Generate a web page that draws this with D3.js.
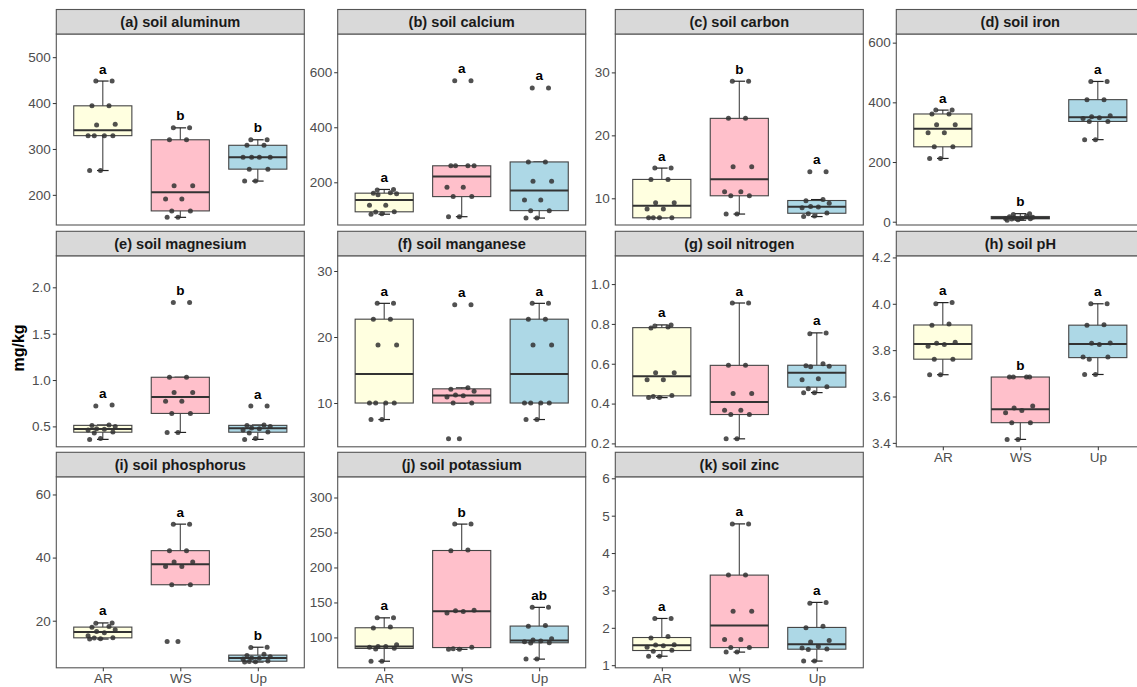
<!DOCTYPE html>
<html>
<head>
<meta charset="UTF-8" />
<style>
  body { margin: 0; background: #fff; }
  svg { display: block; font-family: "Liberation Sans", Arial, sans-serif; }
</style>
</head>
<body>
<svg></svg>
<script src="https://d3js.org/d3.v7.min.js"></script>
<script>
  // groups and their box colours
  const groups = ["AR", "WS", "Up"];
  const boxFills = ["#FFFFE0", "#FFC0CB", "#ADD8E6"];

  // values per group (AR, WS, Up)
  const aluminum = [
    [253, 253, 329, 329, 329, 329, 352, 354, 394, 394, 448, 448],
    [151, 151, 165, 165, 191, 191, 220, 220, 320, 320, 346, 346],
    [230, 230, 256, 256, 282, 282, 282, 282, 308, 308, 320, 320]
  ];
  const calcium = [
    [84, 86, 92, 93, 117, 117, 155, 158, 160, 162, 172, 174],
    [75, 75, 148, 148, 182, 182, 260, 260, 260, 260, 569, 569],
    [70, 70, 97, 97, 136, 136, 204, 204, 274, 274, 543, 543]
  ];
  const carbon = [
    [6.9, 6.9, 6.9, 6.9, 8.3, 8.3, 9.3, 9.3, 13.0, 13.0, 14.8, 14.8],
    [7.5, 7.5, 10.4, 10.4, 11.05, 11.05, 15.0, 15.0, 22.7, 22.7, 28.6, 28.6],
    [7.1, 7.2, 7.55, 7.65, 8.5, 8.6, 8.7, 9.2, 9.6, 9.8, 14.2, 14.2]
  ];
  const iron = [
    [212, 212, 251, 251, 298, 298, 325, 325, 361, 361, 374, 374],
    [5, 7, 9, 10, 11, 12, 13, 15, 17, 19, 24, 27],
    [275, 275, 336, 336, 346, 348, 352, 355, 409, 409, 470, 470]
  ];
  const magnesium = [
    [0.36, 0.37, 0.43, 0.44, 0.46, 0.47, 0.475, 0.5, 0.51, 0.515, 0.72, 0.73],
    [0.435, 0.435, 0.64, 0.64, 0.77, 0.77, 0.865, 0.865, 1.03, 1.03, 1.835, 1.835],
    [0.36, 0.37, 0.43, 0.44, 0.46, 0.475, 0.483, 0.5, 0.51, 0.515, 0.72, 0.72]
  ];
  const manganese = [
    [7.5, 7.5, 10, 10, 10, 10, 18.8, 18.8, 22.7, 22.7, 25.1, 25.1],
    [4.6, 4.6, 10.0, 10.0, 10.9, 11.1, 11.2, 11.8, 12.1, 12.3, 24.9, 24.9],
    [7.5, 7.5, 10, 10, 10, 10, 18.8, 18.8, 22.7, 22.7, 25.1, 25.1]
  ];
  const nitrogen = [
    [0.43, 0.43, 0.435, 0.44, 0.52, 0.52, 0.555, 0.555, 0.78, 0.785, 0.79, 0.795],
    [0.223, 0.223, 0.345, 0.345, 0.367, 0.367, 0.45, 0.45, 0.592, 0.592, 0.905, 0.905],
    [0.455, 0.455, 0.475, 0.485, 0.52, 0.525, 0.585, 0.588, 0.59, 0.6, 0.75, 0.755]
  ];
  const pH = [
    [3.694, 3.694, 3.761, 3.761, 3.817, 3.824, 3.83, 3.834, 3.907, 3.913, 4.0, 4.005],
    [3.415, 3.415, 3.487, 3.487, 3.53, 3.54, 3.55, 3.559, 3.684, 3.684, 3.684, 3.684],
    [3.695, 3.695, 3.761, 3.77, 3.77, 3.824, 3.83, 3.831, 3.907, 3.91, 4.0, 4.0]
  ];
  const phosphorus = [
    [14.2, 14.3, 14.5, 14.6, 15.2, 16.2, 16.6, 17.1, 17.9, 18.2, 19.2, 19.3],
    [13.4, 13.4, 31.4, 31.4, 37.2, 37.2, 38.6, 38.6, 42.2, 42.2, 50.6, 50.6],
    [6.9, 7.0, 7.05, 7.2, 7.9, 8.1, 8.2, 8.6, 9.0, 9.4, 11.5, 11.6]
  ];
  const potassium = [
    [66, 66, 83.5, 84.5, 86, 87, 87.2, 89.5, 113.5, 114.8, 128, 128],
    [83, 83, 84, 86, 135, 137, 138, 139, 224, 225, 262, 262],
    [69, 69, 92, 92.5, 94, 95, 96.5, 98, 116, 117, 143, 143]
  ];
  const zinc = [
    [1.24, 1.24, 1.37, 1.4, 1.48, 1.52, 1.54, 1.55, 1.73, 1.77, 2.25, 2.25],
    [1.35, 1.35, 1.47, 1.47, 1.69, 1.69, 2.44, 2.44, 3.41, 3.41, 4.78, 4.78],
    [1.11, 1.11, 1.42, 1.43, 1.46, 1.5, 1.62, 1.66, 2.0, 2.04, 2.66, 2.68]
  ];

  const titles = [
    "(a) soil aluminum", "(b) soil calcium", "(c) soil carbon", "(d) soil iron",
    "(e) soil magnesium", "(f) soil manganese", "(g) soil nitrogen", "(h) soil pH",
    "(i) soil phosphorus", "(j) soil potassium", "(k) soil zinc"
  ];
  const series = [aluminum, calcium, carbon, iron, magnesium, manganese,
    nitrogen, pH, phosphorus, potassium, zinc];
  // significance letters
  const letters = [
    ["a", "b", "b"], ["a", "a", "a"], ["a", "b", "a"], ["a", "b", "a"],
    ["a", "b", "a"], ["a", "a", "a"], ["a", "a", "a"], ["a", "b", "a"],
    ["a", "a", "b"], ["a", "b", "ab"], ["a", "a", "a"]
  ];
  // y tick labels
  const yTicks = [
    [200, 300, 400, 500], [200, 400, 600], [10, 20, 30], [0, 200, 400, 600],
    [0.5, 1.0, 1.5, 2.0], [10, 20, 30], [0.2, 0.4, 0.6, 0.8, 1.0],
    [3.4, 3.6, 3.8, 4.0, 4.2], [20, 40, 60], [100, 150, 200, 250, 300],
    [1, 2, 3, 4, 5, 6]
  ];
  // y axis limits of each panel
  const yLimits = [
    [134.3, 550.5], [44.8, 739], [5.76, 36.1], [-11, 629],
    [0.28, 2.34], [3.37, 32.3], [0.183, 1.142], [3.383, 4.207],
    [5.08, 65.6], [56.6, 329.6], [0.93, 6.04]
  ];
  // horizontal jitter of points, in units of category spacing
  const jitter = [-0.17, -0.03, -0.11, 0.13, -0.19, 0.02, -0.08, 0.16, -0.14, 0.08, -0.09, 0.12];

  const width = 1137, height = 687;
  const svg = d3.select("svg").attr("width", width).attr("height", height);
  svg.append("rect").attr("width", width).attr("height", height).attr("fill", "#fff");

  const colLeft = [56.3, 337.7, 615.3, 896.3];
  const rowTop = [9.5, 231.3, 452.3];
  const stripH = 24.5, panelW = 248, panelH = 191;

  series.forEach(function (data, i) {
    const col = i % 4, row = Math.floor(i / 4);
    const left = colLeft[col], top = rowTop[row] + stripH;

    const x = d3.scalePoint().domain(groups).range([left, left + panelW]).padding(0.6);
    const step = x.step();
    const y = d3.scaleLinear().domain(yLimits[i]).range([top + panelH, top]);

    const g = svg.append("g").attr("class", "panel");

    g.append("rect")
      .attr("x", left).attr("y", top)
      .attr("width", panelW).attr("height", panelH)
      .attr("fill", "#fff");

    groups.forEach(function (grp, gi) {
      const vals = data[gi].slice().sort(d3.ascending);
      const q1 = d3.quantile(vals, 0.25), med = d3.quantile(vals, 0.5), q3 = d3.quantile(vals, 0.75);
      const iqr = q3 - q1;
      const lo = d3.min(vals.filter(v => v >= q1 - 1.5 * iqr));
      const hi = d3.max(vals.filter(v => v <= q3 + 1.5 * iqr));
      const cx = x(grp);

      // errorbar whiskers
      g.append("line")
        .attr("x1", cx).attr("x2", cx).attr("y1", y(lo)).attr("y2", y(hi))
        .attr("stroke", "#444").attr("stroke-width", 1.1);
      [lo, hi].forEach(function (v) {
        g.append("line")
          .attr("x1", cx - 0.075 * step).attr("x2", cx + 0.075 * step)
          .attr("y1", y(v)).attr("y2", y(v))
          .attr("stroke", "#222").attr("stroke-width", 1.2);
      });

      // box
      g.append("rect")
        .attr("x", cx - 0.375 * step).attr("width", 0.75 * step)
        .attr("y", y(q3)).attr("height", Math.max(1, y(q1) - y(q3)))
        .attr("fill", boxFills[gi])
        .attr("stroke", "#444").attr("stroke-width", 1.1);
      g.append("line")
        .attr("x1", cx - 0.375 * step).attr("x2", cx + 0.375 * step)
        .attr("y1", y(med)).attr("y2", y(med))
        .attr("stroke", "#333").attr("stroke-width", 2);

      // points
      g.selectAll(null)
        .data(data[gi])
        .enter()
        .append("circle")
        .attr("cx", (d, j) => cx + jitter[j] * step)
        .attr("cy", d => y(d))
        .attr("r", 2.5)
        .attr("fill", "#333")
        .attr("fill-opacity", 0.85);

      // letters
      g.append("text")
        .attr("x", cx).attr("y", y(d3.max(vals)) - 7.5)
        .attr("text-anchor", "middle")
        .attr("font-size", 13.5).attr("font-weight", "bold")
        .attr("fill", "#000")
        .text(letters[i][gi]);
    });

    // panel border
    g.append("rect")
      .attr("x", left).attr("y", top)
      .attr("width", panelW).attr("height", panelH)
      .attr("fill", "none").attr("stroke", "#555").attr("stroke-width", 1.1);

    // strip
    g.append("rect")
      .attr("x", left).attr("y", rowTop[row])
      .attr("width", panelW).attr("height", stripH)
      .attr("fill", "#D9D9D9").attr("stroke", "#555").attr("stroke-width", 1.1);
    g.append("text")
      .attr("x", left + panelW / 2).attr("y", rowTop[row] + stripH / 2 + 5.2)
      .attr("text-anchor", "middle")
      .attr("font-size", 14.6).attr("font-weight", "bold").attr("fill", "#1A1A1A")
      .text(titles[i]);

    // y axis
    const decimal = yTicks[i].some(t => !Number.isInteger(t));
    const yAxis = g.append("g")
      .attr("transform", "translate(" + left + ",0)")
      .call(d3.axisLeft(y).tickValues(yTicks[i]).tickSize(3.5).tickPadding(2)
        .tickFormat(decimal ? d3.format(".1f") : d3.format("d")));
    yAxis.select(".domain").remove();
    yAxis.selectAll("line").attr("stroke", "#333");
    yAxis.selectAll("text").attr("fill", "#4D4D4D").attr("font-size", 13.5)
      .attr("font-family", "Liberation Sans, Arial, sans-serif");

    // x axis on bottom row and on (h)
    if (row === 2 || i === 7) {
      const xAxis = g.append("g")
        .attr("transform", "translate(0," + (top + panelH) + ")")
        .call(d3.axisBottom(x).tickSize(3.5).tickPadding(2.5));
      xAxis.select(".domain").remove();
      xAxis.selectAll("line").attr("stroke", "#333");
      xAxis.selectAll("text").attr("fill", "#4D4D4D").attr("font-size", 13.5)
        .attr("font-family", "Liberation Sans, Arial, sans-serif");
    }
  });

  // y axis title
  svg.append("text")
    .attr("transform", "translate(24,348) rotate(-90)")
    .attr("text-anchor", "middle")
    .attr("font-size", 16).attr("font-weight", "bold").attr("fill", "#000")
    .text("mg/kg");
</script>
</body>
</html>
